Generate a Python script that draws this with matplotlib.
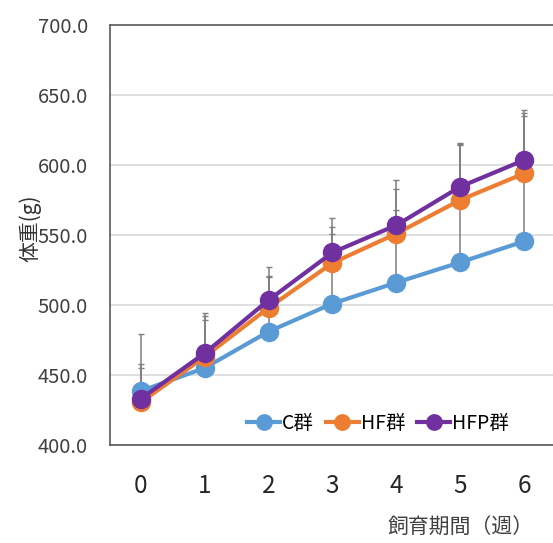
import numpy as np
import matplotlib
matplotlib.use("Agg")
import matplotlib.pyplot as plt

plt.rcParams['font.family'] = ['Noto Sans CJK JP', 'DejaVu Sans']

# 飼育週と各群の平均体重・誤差上端
weeks = [0, 1, 2, 3, 4, 5, 6]
groups = ["C群", "HF群", "HFP群"]
colors = ["#5B9BD5", "#ED7D31", "#7030A0"]

c_mean = [438.5, 455, 481, 501, 516, 530.5, 545.5]
hf_mean = [430.5, 463, 498, 530, 551, 575, 594]
hfp_mean = [433, 465.5, 503.5, 537.5, 557, 584.5, 603.5]

c_top = [479, 489, 520, 551, 568, 615, 637]
hf_top = [457.5, 492, 521, 556, 583, 614, 635]
hfp_top = [455, 494, 527, 562, 589, 616, 639]

means = [c_mean, hf_mean, hfp_mean]
tops = [c_top, hf_top, hfp_top]

fig = plt.figure(figsize=(5.53, 5.43), dpi=100)
ax = fig.add_axes([0.199, 0.1805, 0.801, 0.7735])

# 誤差棒（上側のみ）
for m, t in zip(means, tops):
    m = np.array(m)
    up = np.array(t) - m
    ax.errorbar(weeks, m, yerr=[np.zeros_like(up), up], fmt='none',
                ecolor='#7F7F7F', elinewidth=1.1, capsize=2.5,
                capthick=1.0, zorder=2)

for name, m, col in zip(groups, means, colors):
    ax.plot(weeks, m, color=col, lw=3, marker='o', markersize=13,
            markeredgecolor=col, label=name, zorder=3)

ax.set_xlim(-0.48, 6.45)
ax.set_ylim(400, 700)
ax.set_yticks(np.arange(400, 701, 50))
ax.set_yticklabels([f"{v:.1f}" for v in np.arange(400, 701, 50)])
ax.set_xticks(weeks)
ax.tick_params(axis='y', length=0, pad=16, labelsize=14.5, labelcolor='#404040')
ax.tick_params(axis='x', length=0, pad=20, labelsize=17.5, labelcolor='#262626')

ax.grid(axis='y', color='#D9D9D9', lw=1.2)
ax.set_axisbelow(True)
for s in ['left', 'bottom', 'top']:
    ax.spines[s].set_color('#595959')
    ax.spines[s].set_linewidth(1.2)
ax.spines['right'].set_visible(False)

fig.text(0.055, 0.58, "体重(g)", rotation=90, ha='center', va='center',
         fontsize=15, color='#333333')
fig.text(0.965, 0.028, "飼育期間（週）", ha='right', va='center',
         fontsize=15, color='#404040')

ax.legend(loc='lower right', ncol=3, frameon=False, fontsize=14,
          handlelength=1.7, handletextpad=0.1, columnspacing=0.6,
          markerscale=0.85, bbox_to_anchor=(0.94, -0.015))

fig.savefig("out.png", dpi=100)
